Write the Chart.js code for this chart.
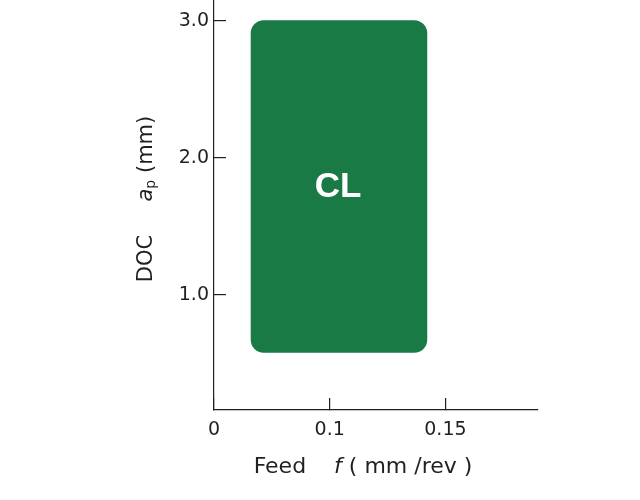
<!DOCTYPE html>
<html>
<head>
<meta charset="utf-8">
<script src="https://cdn.jsdelivr.net/npm/chart.js@4.4.0/dist/chart.umd.min.js"></script>
<style>
  html, body { margin: 0; padding: 0; background: #fff; }
  #wrap { width: 640px; height: 500px; }
</style>
</head>
<body>
<div id="wrap"><canvas id="myChart"></canvas></div>
<script>
// chip breaker application range
const regionNames = ["CL"];
const feedRange = [[0.066, 0.142]];
const docRange = [[0.58, 3.0]];

const xLimits = [0.05, 0.19];
const yLimits = [0.16, 3.15];
const xTickValues = [0.05, 0.1, 0.15];
const xTickLabels = ["0", "0.1", "0.15"];
const yTickValues = [1, 2, 3];
const yTickLabels = ["1.0", "2.0", "3.0"];

// axis titles as [text, style]
const xTitleParts = [["Feed", "n"], ["    ", "n"], ["f", "i"], [" ( mm /rev )", "n"]];
const yTitleParts = [["DOC", "n"], ["     ", "n"], ["a", "i"], ["p", "sub"], [" (mm)", "n"]];

const ink = "#231f20";
const green = "#1a7a46";
const fontName = "'DejaVu Sans', sans-serif";

function partFont(style, size) {
  if (style === "i") return "italic " + size + "px " + fontName;
  if (style === "sub") return Math.round(size * 0.66) + "px " + fontName;
  return size + "px " + fontName;
}

function drawParts(ctx, parts, x, y, size) {
  let total = 0;
  for (const p of parts) {
    ctx.font = partFont(p[1], size);
    total += ctx.measureText(p[0]).width;
  }
  let pos = x - total / 2;
  for (const p of parts) {
    ctx.font = partFont(p[1], size);
    ctx.fillText(p[0], pos, p[1] === "sub" ? y + 4 : y);
    pos += ctx.measureText(p[0]).width;
  }
}

const axisTitles = {
  id: "axisTitles",
  afterDraw(chart) {
    const ctx = chart.ctx;
    const area = chart.chartArea;
    ctx.save();
    ctx.fillStyle = ink;
    ctx.textAlign = "left";
    ctx.textBaseline = "middle";
    drawParts(ctx, xTitleParts, (area.left + area.right) / 2 - 13, 467, 22);
    ctx.translate(147, (area.top + area.bottom) / 2 - 6);
    ctx.rotate(-Math.PI / 2);
    drawParts(ctx, yTitleParts, 0, 0, 21);
    ctx.restore();
  },
};

// name written in the middle of each region
const regionLabels = {
  id: "regionLabels",
  afterDatasetsDraw(chart) {
    const ctx = chart.ctx;
    ctx.save();
    ctx.fillStyle = "#ffffff";
    ctx.font = "bold 35px 'Liberation Sans', sans-serif";
    ctx.textAlign = "center";
    ctx.textBaseline = "middle";
    chart.data.datasets.forEach((ds, i) => {
      const bar = chart.getDatasetMeta(i).data[0];
      const c = bar.getCenterPoint();
      ctx.fillText(regionNames[i], c.x - 1, c.y + 1);
    });
    ctx.restore();
  },
};

const datasets = regionNames.map((name, i) => ({
  label: name,
  data: [{ x: (feedRange[i][0] + feedRange[i][1]) / 2, y: docRange[i] }],
  backgroundColor: green,
  borderWidth: 0,
  borderRadius: 13,
  borderSkipped: false,
  grouped: false,
  barThickness: (c) => {
    const xs = c.chart.scales.x;
    if (!xs) return undefined;
    return xs.getPixelForValue(feedRange[i][1]) - xs.getPixelForValue(feedRange[i][0]);
  },
}));

const ctx = document.getElementById("myChart").getContext("2d");
const myChart = new Chart(ctx, {
  type: "bar",
  data: { datasets: datasets },
  options: {
    responsive: true,
    maintainAspectRatio: false,
    animation: false,
    layout: { padding: { left: 0, right: 102, top: 0, bottom: 0 } },
    plugins: { legend: { display: false }, tooltip: { enabled: false } },
    scales: {
      x: {
        type: "linear",
        min: xLimits[0],
        max: xLimits[1],
        offset: false,
        afterBuildTicks: (s) => { s.ticks = xTickValues.map((v) => ({ value: v })); },
        afterFit: (s) => { s.height = 90; s.paddingLeft = 0; s.paddingRight = 0; },
        grid: { offset: false, drawOnChartArea: false, drawTicks: true, tickLength: -12, color: ink, lineWidth: 1.2 },
        border: { color: ink, width: 1.2 },
        ticks: {
          color: ink,
          padding: 21,
          maxRotation: 0,
          autoSkip: false,
          font: { family: fontName, size: 19 },
          callback: (v) => xTickLabels[xTickValues.indexOf(v)],
        },
      },
      y: {
        type: "linear",
        min: yLimits[0],
        max: yLimits[1],
        beginAtZero: false,
        afterBuildTicks: (s) => { s.ticks = yTickValues.map((v) => ({ value: v })); },
        afterFit: (s) => { s.width = 214; s.paddingTop = 0; s.paddingBottom = 0; },
        grid: { drawOnChartArea: false, drawTicks: true, tickLength: -12, color: ink, lineWidth: 1.2 },
        border: { color: ink, width: 1.2 },
        ticks: {
          color: ink,
          padding: 17,
          font: { family: fontName, size: 19 },
          callback: (v) => yTickLabels[yTickValues.indexOf(v)],
        },
      },
    },
  },
  plugins: [axisTitles, regionLabels],
});
</script>
</body>
</html>
